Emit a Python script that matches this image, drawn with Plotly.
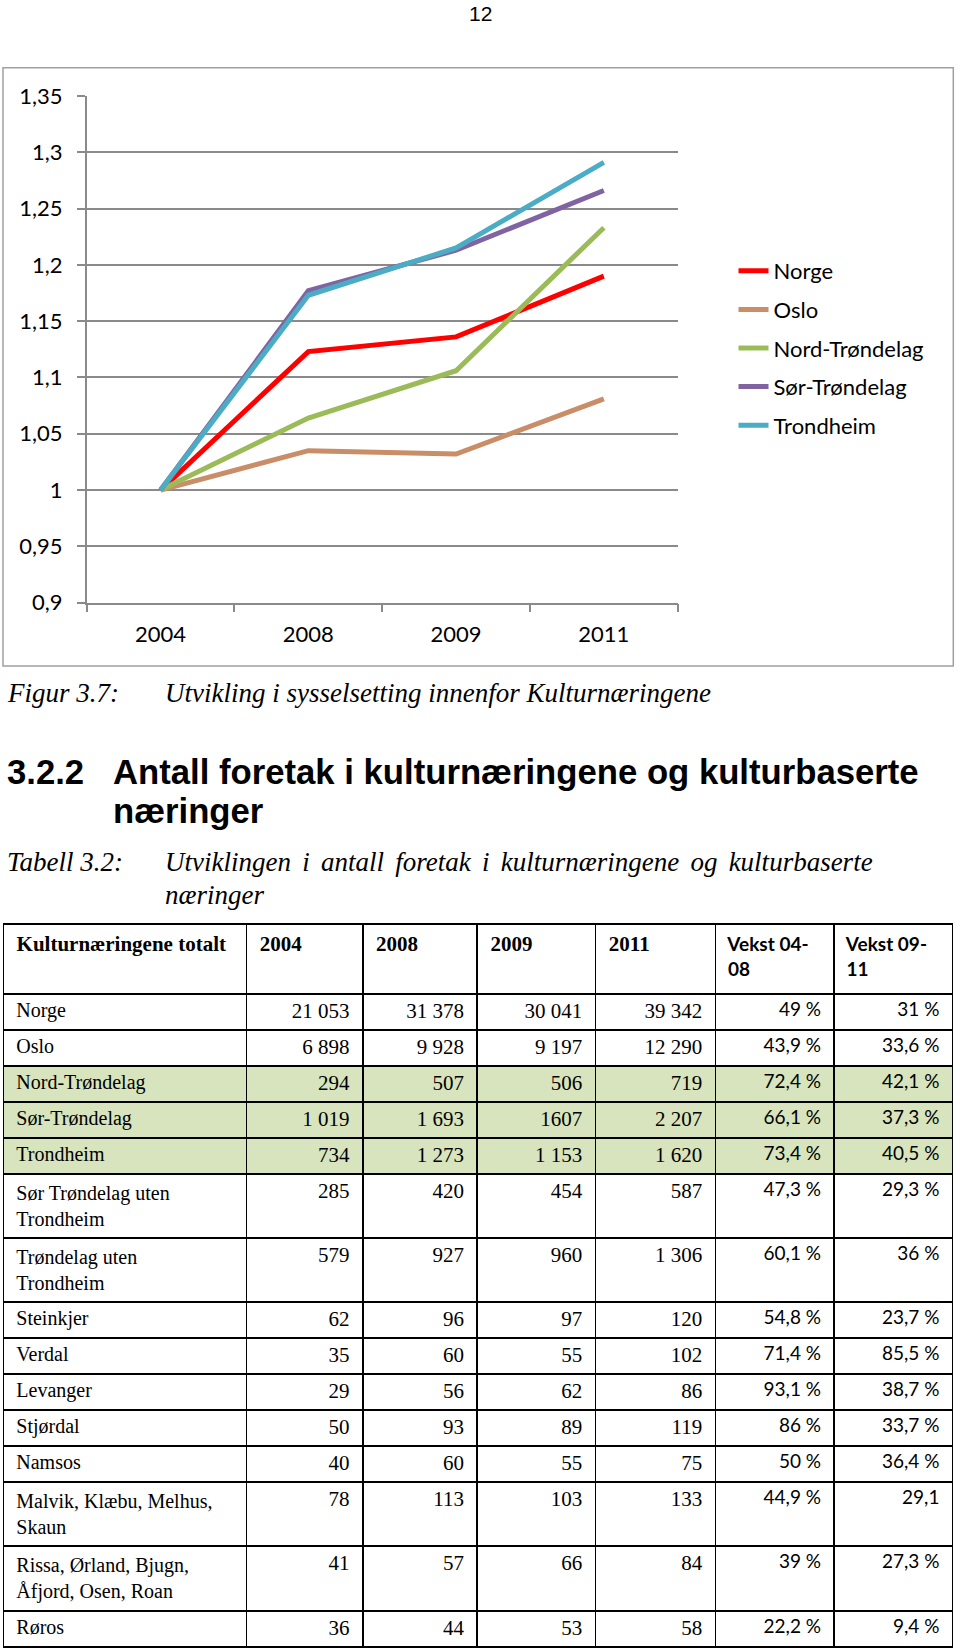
import plotly.graph_objects as go

W, H = 960, 1652

# ---------------- chart data ----------------
years = ["2004", "2008", "2009", "2011"]
series_names = ["Norge", "Oslo", "Nord-Trøndelag", "Sør-Trøndelag", "Trondheim"]
norge = [1.0, 1.123, 1.136, 1.190]
oslo = [1.0, 1.035, 1.032, 1.081]
nord_trondelag = [1.0, 1.064, 1.106, 1.233]
sor_trondelag = [1.0, 1.177, 1.213, 1.266]
trondheim = [1.0, 1.173, 1.215, 1.291]
series_colors = ["#FF0000", "#C98D68", "#9BBB59", "#8064A2", "#4BACC6"]

y_tickvals = [0.9, 0.95, 1.0, 1.05, 1.1, 1.15, 1.2, 1.25, 1.3, 1.35]
y_ticktext = ["0,9", "0,95", "1", "1,05", "1,1", "1,15", "1,2", "1,25", "1,3", "1,35"]

# ---------------- table data ----------------
table_header = ["Kulturnæringene totalt", "2004", "2008", "2009", "2011",
                "Vekst 04-\n08", "Vekst 09-\n11"]
row_labels = ["Norge", "Oslo", "Nord-Trøndelag", "Sør-Trøndelag", "Trondheim",
              "Sør Trøndelag uten\nTrondheim", "Trøndelag uten\nTrondheim",
              "Steinkjer", "Verdal", "Levanger", "Stjørdal", "Namsos",
              "Malvik, Klæbu, Melhus,\nSkaun", "Rissa, Ørland, Bjugn,\nÅfjord, Osen, Roan",
              "Røros"]
v2004 = ["21 053", "6 898", "294", "1 019", "734", "285", "579", "62", "35", "29",
         "50", "40", "78", "41", "36"]
v2008 = ["31 378", "9 928", "507", "1 693", "1 273", "420", "927", "96", "60", "56",
         "93", "60", "113", "57", "44"]
v2009 = ["30 041", "9 197", "506", "1607", "1 153", "454", "960", "97", "55", "62",
         "89", "55", "103", "66", "53"]
v2011 = ["39 342", "12 290", "719", "2 207", "1 620", "587", "1 306", "120", "102", "86",
         "119", "75", "133", "84", "58"]
vekst_04_08 = ["49 %", "43,9 %", "72,4 %", "66,1 %", "73,4 %", "47,3 %", "60,1 %",
               "54,8 %", "71,4 %", "93,1 %", "86 %", "50 %", "44,9 %", "39 %", "22,2 %"]
vekst_09_11 = ["31 %", "33,6 %", "42,1 %", "37,3 %", "40,5 %", "29,3 %", "36 %",
               "23,7 %", "85,5 %", "38,7 %", "33,7 %", "36,4 %", "29,1", "27,3 %", "9,4 %"]
highlighted_rows = ["Nord-Trøndelag", "Sør-Trøndelag", "Trondheim"]

# ---------------- figure ----------------
fig = go.Figure()
for name, vals, col in zip(series_names,
                           [norge, oslo, nord_trondelag, sor_trondelag, trondheim],
                           series_colors):
    fig.add_trace(go.Scatter(x=years, y=vals, name=name, mode="lines",
                             line=dict(color=col, width=5),
                             legendgroup=name, hoverinfo="skip"))

def px_x(p):
    return p / W

def px_y(p):
    return 1 - p / H

SANS = "Lato, 'Open Sans', sans-serif"
SERIF = "'Liberation Serif', 'Times New Roman', serif"
ARIAL = "'Liberation Sans', Arial, sans-serif"
GRID = "#8A8A8A"

fig.update_layout(
    width=W, height=H,
    margin=dict(l=0, r=0, t=0, b=0, autoexpand=False),
    paper_bgcolor="white", plot_bgcolor="white",
    showlegend=True,
    legend=dict(x=px_x(733.5), y=px_y(250), xanchor="left", yanchor="top",
                font=dict(family=SANS, size=22, color="black"),
                tracegroupgap=7, bgcolor="rgba(0,0,0,0)"),
    xaxis=dict(domain=[px_x(86.7), px_x(677.7)], type="category",
               range=[-0.5, 3.5], showgrid=False, showline=True, automargin=False,
               linecolor=GRID, linewidth=1.5, ticks="outside", tickson="boundaries",
               ticklen=8, tickcolor=GRID, tickwidth=1.5, ticklabelstandoff=11,
               tickfont=dict(family=SANS, size=22, color="black"), fixedrange=True),
    yaxis=dict(domain=[px_y(602.7), px_y(95.7)], range=[0.9, 1.3502],
               tickvals=y_tickvals, ticktext=y_ticktext, automargin=False,
               showgrid=True, gridcolor=GRID, gridwidth=1.5,
               showline=True, linecolor=GRID, linewidth=1.5, zeroline=False,
               ticks="outside", ticklen=8, tickcolor=GRID, tickwidth=1.5,
               ticklabelstandoff=10,
               tickfont=dict(family=SANS, size=22, color="black"), fixedrange=True),
)

# chart frame
fig.add_shape(type="rect", xref="paper", yref="paper",
              x0=px_x(3), x1=px_x(953.3), y0=px_y(666), y1=px_y(67.7),
              line=dict(color="#A0A0A0", width=1.5), layer="below")

def note(text, x, y, size, family, xanchor="left"):
    fig.add_annotation(text=text, x=px_x(x), y=px_y(y), xref="paper", yref="paper",
                       xanchor=xanchor, yanchor="middle", showarrow=False,
                       font=dict(family=family, size=size, color="black"))

JS = " \u2006"  # slightly widened word space (justified line in the source)
note("12", 480, 14, 21, ARIAL, xanchor="center")
note("<i>Figur 3.7:</i>", 5, 693, 27, SERIF)
note("<i>Utvikling i sysselsetting innenfor Kulturnæringene</i>", 163, 693, 27, SERIF)
note("<b>3.2.2</b>", 5, 772, 34.7, ARIAL)
note("<b>Antall foretak i kulturnæringene og kulturbaserte</b>", 111, 772, 34.7, ARIAL)
note("<b>næringer</b>", 111, 811, 34.7, ARIAL)
note("<i>Tabell 3.2:</i>", 5, 862, 27, SERIF)
note("<i>" + JS.join("Utviklingen i antall foretak i kulturnæringene og kulturbaserte".split(" "))
     + "</i>", 163, 862, 27, SERIF)
note("<i>næringer</i>", 163, 895, 27, SERIF)

# ---------------- table ----------------
NB = "\u00a0"

def left_txt(s):
    return NB + s.replace("\n", "<br>" + NB)

def right_txt(s):
    return s.replace("\n", NB + "<br>") + NB

header_vals = ["<b>" + left_txt(h) + "</b>" for h in table_header]
columns = [row_labels, v2004, v2008, v2009, v2011, vekst_04_08, vekst_09_11]
cell_vals = [[left_txt(s) for s in columns[0]]] + \
            [[right_txt(s) for s in col] for col in columns[1:]]
row_fill = ["#D7E4BD" if r in highlighted_rows else "white" for r in row_labels]
col_fonts = [SERIF] * 5 + [SANS] * 2

fig.add_trace(go.Table(
    domain=dict(x=[px_x(3.3), px_x(953.3)], y=[0, px_y(924)]),
    columnwidth=[243.4, 116.5, 114.5, 118.5, 120, 118.6, 118.5],
    header=dict(values=header_vals, height=70, align="left",
                fill=dict(color="white"),
                line=dict(color="black", width=1.5),
                font=dict(family=col_fonts, size=[21] * 5 + [19] * 2, color="black")),
    cells=dict(values=cell_vals, height=36.0,
               align=["left"] + ["right"] * 6,
               fill=dict(color=[row_fill] * 7),
               line=dict(color="black", width=1.5),
               font=dict(family=col_fonts, size=[20] + [21] * 4 + [19] * 2,
                         color="black")),
))

fig.write_html("out.html")
